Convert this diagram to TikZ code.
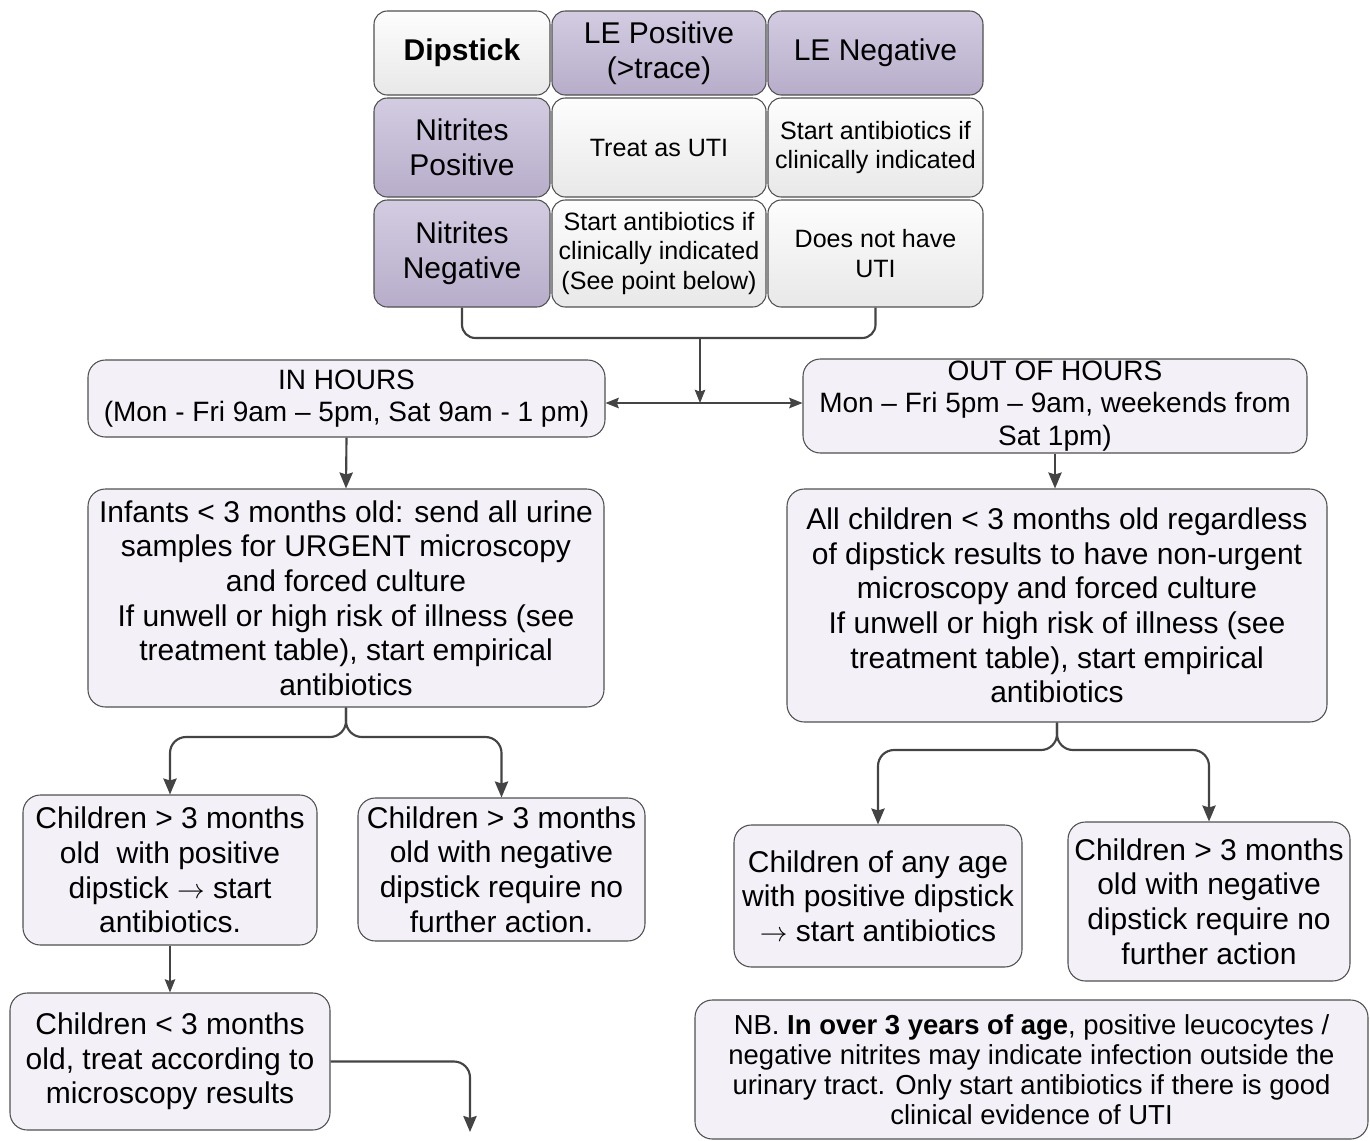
\documentclass[tikz,border=0pt]{standalone}
\usepackage{fontspec}
\setmainfont{Liberation Sans}
\usetikzlibrary{arrows.meta}
\definecolor{bord}{HTML}{505050}
\definecolor{boxf}{HTML}{F3F1F7}
\definecolor{purT}{HTML}{D3CCE1}
\definecolor{purB}{HTML}{B7ADCA}
\definecolor{whT}{HTML}{FDFDFD}
\definecolor{whB}{HTML}{E8E8E8}
\definecolor{linec}{HTML}{444444}
\tikzset{
 sz/.style 2 args={minimum width=#1*0.75pt, minimum height=#2*0.75pt},
 cell/.style={draw=bord, line width=0.8pt, rounded corners=10pt, align=center, inner sep=0pt},
 pcell/.style={cell, top color=purT, bottom color=purB},
 wcell/.style={cell, top color=whT, bottom color=whB},
 box/.style={draw=bord, line width=0.8pt, fill=boxf, rounded corners=13pt, align=center, inner sep=0pt},
 big/.style={font=\fontsize{22.5}{26}\selectfont},
 small/.style={font=\fontsize{18.8}{21.8}\selectfont},
 mid/.style={font=\fontsize{21}{24.5}\selectfont},
 nbf/.style={font=\fontsize{20.6}{22.6}\selectfont},
 conn/.style={draw=linec, line width=1.6pt, -{Stealth[length=12pt,width=10pt,inset=1.5pt]}},
 brace/.style={draw=linec, line width=1.6pt},
 thinar/.style={draw=linec, line width=0.8pt, -{Stealth[length=10pt,width=8pt,inset=1.5pt]}},
 thinboth/.style={draw=linec, line width=0.8pt, {Stealth[length=10pt,width=8pt,inset=1.5pt]}-{Stealth[length=10pt,width=8pt,inset=1.5pt]}},
}
\begin{document}
\begin{tikzpicture}[x=0.75pt,y=-0.75pt]
\useasboundingbox (0,0) rectangle (1370,1140);
% table
\node[wcell, big, sz={176}{84}] (c11) at (462,53) {\textbf{Dipstick}};
\node[pcell, big, sz={214}{84}] (c12) at (659,53) {LE Positive\\(>trace)};
\node[pcell, big, sz={215}{84}] (c13) at (875.5,53) {LE Negative};
\node[pcell, big, sz={176}{99}] (c21) at (462,147.5) {Nitrites\\Positive};
\node[wcell, small, sz={214}{99}] (c22) at (659,147.5) {Treat as UTI};
\node[wcell, small, sz={215}{99}] (c23) at (875.5,147.5) {Start antibiotics if\\clinically indicated};
\node[pcell, big, sz={176}{107}] (c31) at (462,253.5) {Nitrites\\Negative};
\node[wcell, small, sz={214}{107}] (c32) at (659,253.5) {Start antibiotics if\\clinically indicated\\(See point below)};
\node[wcell, small, sz={215}{107}] (c33) at (875.5,253.5) {Does not have\\UTI};
% boxes
\node[box, mid, sz={517}{77}] (inh) at (346.5,398.5) {IN HOURS\\(Mon - Fri 9am – 5pm, Sat 9am - 1 pm)};
\node[box, mid, sz={504}{94}] (ooh) at (1055,406) {OUT OF HOURS\\Mon – Fri 5pm – 9am, weekends from\\Sat 1pm)};
\node[box, big, sz={516}{218}] (inf) at (346,598) {Infants < 3 months old: send all urine\\samples for URGENT microscopy\\and forced culture\\If unwell or high risk of illness (see\\treatment table), start empirical\\antibiotics};
\node[box, big, sz={540}{233}] (allch) at (1057,605.5) {All children < 3 months old regardless\\of dipstick results to have non-urgent\\microscopy and forced culture\\If unwell or high risk of illness (see\\treatment table), start empirical\\antibiotics};
\node[box, big, sz={294}{150}] (cpos) at (170,870) {Children > 3 months\\old\ \ with positive\\dipstick $\rightarrow$ start\\antibiotics.};
\node[box, big, sz={287}{143}] (cneg) at (501.5,869.5) {Children > 3 months\\old with negative\\dipstick require no\\further action.};
\node[box, big, sz={320}{137}] (clt) at (170,1061.5) {Children < 3 months\\old, treat according to\\microscopy results};
\node[box, big, sz={288}{142}] (cany) at (878,896) {Children of any age\\with positive dipstick\\$\rightarrow$ start antibiotics};
\node[box, big, sz={282}{159}] (rneg) at (1209,901.5) {Children > 3 months\\old with negative\\dipstick require no\\further action};
\node[box, nbf, sz={673}{139}] (nb) at (1031.5,1069.5) {NB. \textbf{In over 3 years of age}, positive leucocytes /\\negative nitrites may indicate infection outside the\\urinary tract. Only start antibiotics if there is good\\clinical evidence of UTI};
% connectors
\coordinate (brk) at (700,338);
\coordinate (hj) at (700,403);
\draw[brace, rounded corners=10pt] (c31.south) |- (brk) -| (c33.south);
\draw[thinar] (brk) -- (hj);
\draw[thinboth] (inh.east |- hj) -- (ooh.west |- hj);
\draw[conn] (inh.south) -- (inf.north);
\draw[conn] (ooh.south) -- (ooh.south |- allch.north);
\coordinate (la) at (170,737);
\coordinate (lb) at (501.5,737);
\draw[conn, rounded corners=12pt] (inf.south) |- (la) -- (cpos.north);
\draw[conn, rounded corners=12pt] (inf.south) |- (lb) -- (cneg.north);
\coordinate (ra) at (878,750);
\coordinate (rb) at (1209,750);
\draw[conn, rounded corners=12pt] (allch.south) |- (ra) -- (cany.north);
\draw[conn, rounded corners=12pt] (allch.south) |- (rb) -- (rneg.north);
\draw[thinar] (cpos.south) -- (clt.north);
\coordinate (endpt) at (470,1132);
\draw[conn, rounded corners=12pt] (clt.east) -| (endpt);
\end{tikzpicture}
\end{document}
